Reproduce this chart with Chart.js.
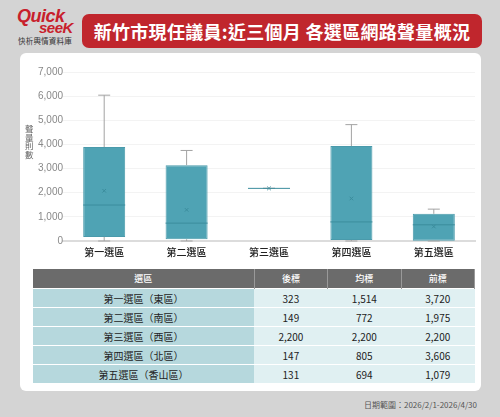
<!DOCTYPE html>
<html>
<head>
<meta charset="utf-8">
<script src="https://cdn.jsdelivr.net/npm/chart.js@4"></script>
<style>
  body { margin: 0; width: 500px; height: 417px; background: #d4d4d4; position: relative; overflow: hidden;
         font-family: "Noto Sans CJK TC", "Noto Sans", sans-serif; }
  .logo1 { position: absolute; left: 17px; top: 6px; color: #c8202b; font: italic 700 18px "Liberation Sans", sans-serif; letter-spacing: -0.5px; }
  .logo2 { position: absolute; left: 39px; top: 19px; color: #c8202b; font: italic 700 15px "Liberation Sans", sans-serif; letter-spacing: -0.5px; }
  .logo3 { position: absolute; left: 18px; top: 35px; color: #333; font-size: 7.5px; letter-spacing: 0.2px; }
  .title { position: absolute; left: 82px; top: 14px; width: 400px; height: 34px; background: #c0262d; border-radius: 7px;
           color: #fff; font-weight: 700; font-size: 18px; line-height: 34px; text-align: center; letter-spacing: 0.3px; }
  .card { position: absolute; left: 20px; top: 53px; width: 461px; height: 338px; background: #fff; border-radius: 6px; }
  .ytitle { position: absolute; left: 25px; top: 124px; width: 9px; font-size: 8.5px; line-height: 8.7px; color: #666; }
  #wrap { position: absolute; left: 20px; top: 53px; width: 461px; height: 210px; }
  table { position: absolute; left: 33px; top: 269px; width: 442px; border-collapse: collapse; font-size: 10px; color: #222; }
  th { background: #6b6b6b; color: #fff; font-weight: 500; font-size: 9px; height: 19px; padding: 0; border-right: 1px solid #999; }
  td { height: 18px; padding: 0; text-align: center; border-top: 1px solid #fff; background: #e0f0f2; }
  td.name { background: #b6d8dd; }
  .date { position: absolute; right: 23px; top: 399px; font-size: 8px; color: #555; }
</style>
</head>
<body>
<div class="logo1">Quick</div>
<div class="logo2">seeK</div>
<div class="logo3">快析輿情資料庫</div>
<div class="title">新竹市現任議員:近三個月 各選區網路聲量概況</div>
<div class="card"></div>
<div id="wrap"><canvas id="myChart"></canvas></div>
<div class="ytitle">聲量則數</div>
<table id="tbl"></table>
<div class="date">日期範圍：2026/2/1-2026/4/30</div>

<script>
const categories = ['第一選區', '第二選區', '第三選區', '第四選區', '第五選區'];
const whiskerMax = [6040, 3750, 2180, 4820, 1320];
const q3 = [3890, 3140, 2180, 3930, 1125];
const median = [1490, 740, 2180, 790, 670];
const q1 = [170, 70, 2180, 40, 10];
const whiskerMin = [0, 0, 2180, 0, 0];
const mean = [2080, 1290, 2180, 1760, 600];

const tableNames = ['第一選區（東區）', '第二選區（南區）', '第三選區（西區）', '第四選區（北區）', '第五選區（香山區）'];
const lowMark = [323, 149, 2200, 147, 131];
const avgMark = [1514, 772, 2200, 805, 694];
const topMark = [3720, 1975, 2200, 3606, 1079];
const tableHead = ['選區', '後標', '均標', '前標'];

// table
const fmt = v => v.toLocaleString('en-US');
let html = '<tr>' + tableHead.map((h, i) => `<th style="width:${i ? 73 : 223}px">${h}</th>`).join('') + '</tr>';
tableNames.forEach((n, i) => {
    html += `<tr><td class="name">${n}</td><td>${fmt(lowMark[i])}</td><td>${fmt(avgMark[i])}</td><td>${fmt(topMark[i])}</td></tr>`;
});
document.getElementById('tbl').innerHTML = html;

// whiskers + median lines
const boxExtras = {
    id: 'boxExtras',
    afterDatasetsDraw(chart) {
        const { ctx, scales: { x, y } } = chart;
        const meta = chart.getDatasetMeta(0);
        ctx.save();
        meta.data.forEach((bar, i) => {
            const cx = x.getPixelForValue(i);
            const half = bar.width / 2;
            ctx.strokeStyle = '#a3a3a3';
            ctx.lineWidth = 1;
            ctx.beginPath();
            ctx.moveTo(cx, y.getPixelForValue(q3[i]));
            ctx.lineTo(cx, y.getPixelForValue(whiskerMax[i]));
            ctx.moveTo(cx - 6, y.getPixelForValue(whiskerMax[i]));
            ctx.lineTo(cx + 6, y.getPixelForValue(whiskerMax[i]));
            ctx.moveTo(cx, y.getPixelForValue(q1[i]));
            ctx.lineTo(cx, y.getPixelForValue(whiskerMin[i]));
            ctx.moveTo(cx - 6, y.getPixelForValue(whiskerMin[i]));
            ctx.lineTo(cx + 6, y.getPixelForValue(whiskerMin[i]));
            ctx.stroke();
            ctx.strokeStyle = '#3b8d9d';
            ctx.beginPath();
            ctx.moveTo(cx - half, y.getPixelForValue(median[i]));
            ctx.lineTo(cx + half, y.getPixelForValue(median[i]));
            ctx.stroke();
        });
        ctx.restore();
    }
};

const data = {
    labels: categories,
    datasets: [{
        type: 'bar',
        data: q1.map((v, i) => [v, q3[i]]),
        backgroundColor: '#4fa3b4',
        borderColor: '#4a9aab',
        borderWidth: 1,
        borderSkipped: false,
        barPercentage: 0.51,
        categoryPercentage: 1,
        order: 2
    }, {
        type: 'line',
        data: mean,
        showLine: false,
        pointStyle: 'crossRot',
        pointRadius: 2.5,
        borderColor: '#3b8d9d',
        borderWidth: 1,
        order: 1
    }]
};

const config = {
    data,
    options: {
        responsive: true,
        maintainAspectRatio: false,
        animation: false,
        layout: { padding: { top: 19, right: 6, left: 0, bottom: 0 } },
        scales: {
            x: {
                grid: { display: false, drawTicks: false },
                border: { color: '#dcdcdc', width: 2 },
                ticks: { color: '#222', font: { size: 10, family: 'Noto Sans CJK TC', weight: 500 }, padding: 5 }
            },
            y: {
                min: 0,
                max: 7000,
                afterFit: s => { s.width = 43; },
                grid: { color: '#f3f3f3', drawTicks: false },
                border: { display: false },
                ticks: { stepSize: 1000, color: '#888', font: { size: 10, family: 'Liberation Sans' }, padding: 0 }
            }
        },
        plugins: {
            legend: { display: false },
            tooltip: { enabled: false }
        }
    },
    plugins: [boxExtras]
};

const myChart = new Chart(document.getElementById('myChart'), config);
</script>
</body>
</html>
